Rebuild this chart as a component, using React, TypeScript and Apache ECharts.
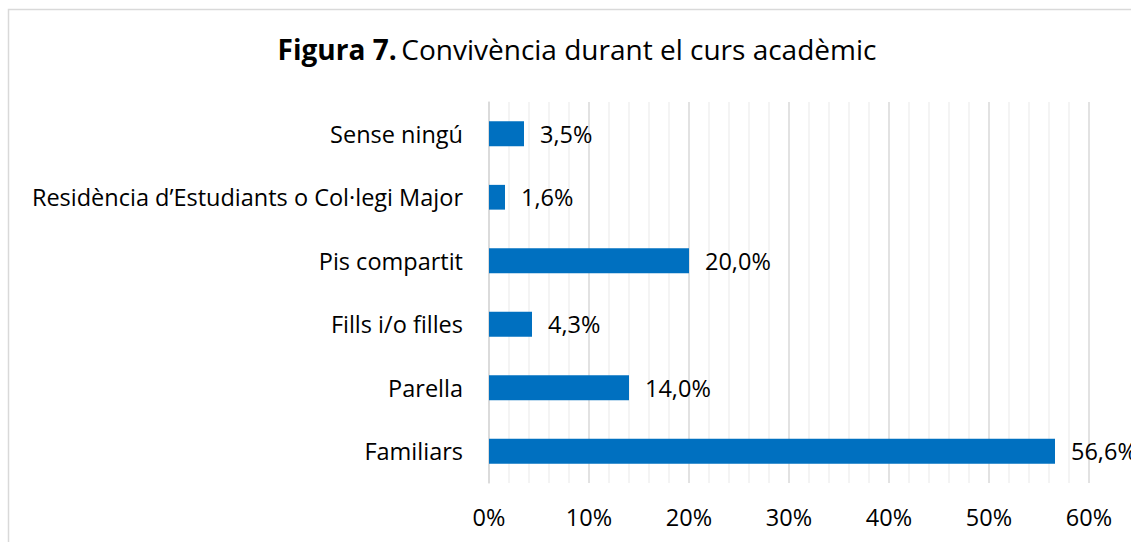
import React, { useEffect, useRef } from "react";
import * as echarts from "echarts";

const categories = [
  "Familiars",
  "Parella",
  "Fills i/o filles",
  "Pis compartit",
  "Residència d’Estudiants o Col·legi Major",
  "Sense ningú",
];
const values = [56.6, 14.0, 4.3, 20.0, 1.6, 3.5];
const FONT = "Open Sans";
const FS = 23.5;

export default function App() {
  const ref = useRef<HTMLDivElement>(null);
  useEffect(() => {
    if (!ref.current) return;
    const chart = echarts.init(ref.current, null, { renderer: "svg" });
    chart.setOption({
      animation: false,
      backgroundColor: "#ffffff",
      textStyle: { fontFamily: FONT },
      title: {
        text: "{b|Figura 7.} {r|Convivència durant el curs acadèmic}",
        left: 572,
        top: 30,
        textAlign: "center",
        textStyle: {
          rich: {
            b: { fontFamily: FONT, fontWeight: "bold", fontSize: 28, color: "#000" },
            r: { fontFamily: FONT, fontWeight: "normal", fontSize: 28, color: "#000" },
          },
        },
      },
      graphic: [
        {
          type: "rect",
          shape: { x: 8.5, y: 9.5, width: 1300, height: 700 },
          style: { fill: "none", stroke: "#d9d9d9", lineWidth: 1.5 },
          silent: true,
        },
      ],
      grid: { left: 489, right: 42, top: 102, bottom: 59, containLabel: false },
      xAxis: {
        type: "value",
        min: 0,
        max: 60,
        interval: 10,
        axisLine: { show: false },
        axisTick: { show: false },
        axisLabel: {
          formatter: (v: number) => v + "%",
          fontFamily: FONT,
          fontSize: FS,
          color: "#000",
          margin: 22,
        },
        splitLine: { show: true, lineStyle: { color: "#d9d9d9", width: 1.5 } },
        minorTick: { show: false, splitNumber: 5 },
        minorSplitLine: { show: true, lineStyle: { color: "#f0f0f0", width: 1.5 } },
      },
      yAxis: {
        type: "category",
        data: categories,
        axisLine: { show: true, lineStyle: { color: "#d9d9d9", width: 1.5 } },
        axisTick: { show: false },
        axisLabel: {
          fontFamily: FONT,
          fontSize: FS,
          color: "#000",
          margin: 26,
        },
      },
      series: [
        {
          type: "bar",
          data: values,
          barWidth: "39%",
          itemStyle: { color: "#0070c0" },
          label: {
            show: true,
            position: "right",
            distance: 16,
            fontFamily: FONT,
            fontSize: FS,
            color: "#000",
            formatter: (p: any) => p.value.toFixed(1).replace(".", ",") + "%",
          },
        },
      ],
    });
    return () => chart.dispose();
  }, []);
  return (
    <div
      ref={ref}
      style={{ position: "absolute", left: 0, top: 0, width: 1131, height: 542 }}
    />
  );
}
